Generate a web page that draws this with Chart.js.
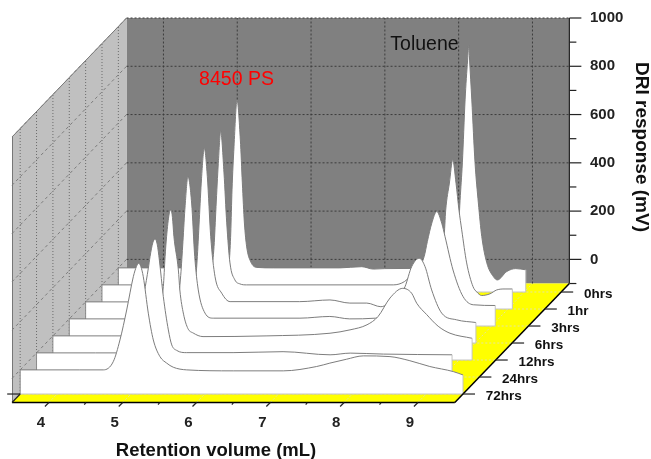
<!DOCTYPE html>
<html>
<head>
<meta charset="utf-8">
<style>html,body{margin:0;padding:0;background:#fff}canvas{display:block}</style>
<script src="https://cdn.jsdelivr.net/npm/chart.js@4"></script>
</head>
<body>
<canvas id="c" width="651" height="459"></canvas>
<script>
const timeLabels = ["72hrs","24hrs","12hrs","6hrs","3hrs","1hr","0hrs"];
const depths = [0.5,1.5,2.5,3.5,4.5,5.5,6.5];
const xTicks = [4,5,6,7,8,9];
const yTicks = [0,100,200,300,400,500,600,700,800,900,1000];
const wallGridValues = [0,200,400,600,800,1000];

const x72 = [3.5,4.3,4.626,4.761,4.852,4.943,5.033,5.075,5.106,5.135,5.168,5.236,5.304,5.394,5.485,5.574,5.756,6.387,7.065,7.517,7.696,7.92,8.149,8.51,8.78,9.05,9.368,9.5];
const y72 = [0,0,0,34,124,248,386,428,442,428,386,235,124,55,28,11,0,-4,-4,14,28,44,58,55,38,14,-7,-21];
const x24 = [3.5,4.3,4.68,4.8,4.88,4.96,5.015,5.038,5.075,5.106,5.135,5.164,5.218,5.286,5.332,5.4,5.535,6.163,6.84,7.477,7.75,8.2,9.13];
const y24 = [0,0,0,30,110,250,351,399,456,472,450,385,233,95,33,10,1,1,5,-8,-1,-5,-8];
const x12 = [3.5,4.3,4.6,4.75,4.85,4.92,4.996,5.02,5.04,5.075,5.1,5.12,5.14,5.2,5.22,5.27,5.33,5.4,5.534,6.4,7.255,7.526,7.756,7.905,8.068,8.24,8.36,8.43,8.565,8.72,8.88,9.18];
const y12 = [0,0,0,3,25,90,204,328,411,505,522,490,411,273,190,90,30,12,-3,0,11,25,46,80,157,197,177,135,88,40,11,-10];
const x6 = [3.5,4.3,4.82,4.92,4.97,5.01,5.04,5.07,5.108,5.158,5.2,5.248,5.339,5.451,6.626,7.03,7.3,7.65,7.8,7.95,8.05,8.14,8.243,8.32,8.41,8.546,8.749,9.01];
const y6 = [0,0,0,12,60,180,320,470,589,480,258,120,24,3,3,10,0,3,40,80,134,217,251,217,120,24,-4,-15];
const x3 = [3.5,4.3,4.84,4.94,4.98,5.01,5.04,5.07,5.108,5.149,5.195,5.253,5.344,5.457,6.4,6.81,7.08,7.31,7.5,7.7,7.95,8.087,8.13,8.19,8.257,8.325,8.37,8.478,8.614,8.753,9.05];
const y3 = [0,0,0,12,60,170,340,510,636,519,270,105,36,1,1,8,-5,-5,-20,20,110,188,250,326,374,326,270,132,22,-12,-15];
const x1 = [3.5,4.3,4.85,4.95,4.986,5.018,5.045,5.076,5.108,5.153,5.19,5.234,5.3,5.37,5.46,6.4,6.86,7.447,7.6,7.75,7.95,8.134,8.157,8.207,8.252,8.297,8.337,8.374,8.441,8.527,8.577,8.645,8.757,8.848,8.961,9.06];
const y1 = [0,0,0,15,62,159,324,504,635,464,257,91,21,4,0,0,0,0,14,60,110,200,310,422,518,421,310,228,91,-7,-29,-44,-37,-21,-17,-17];
const x0 = [3.5,4.3,4.938,4.978,5.004,5.023,5.04,5.067,5.108,5.153,5.18,5.208,5.239,5.294,5.375,5.6,6.5,6.798,6.955,7.11,7.9,8.05,8.1,8.13,8.161,8.198,8.232,8.248,8.259,8.289,8.333,8.378,8.424,8.492,8.581,8.635,8.763,8.885,9.02];
const y0 = [0,0,0,5,33,145,323,502,696,530,352,186,87,25,2,0,0,5,-5,-3,0,30,110,280,435,696,861,923,861,696,435,269,130,21,-36,-50,-15,-3,-8];

const seriesX = [x72,x24,x12,x6,x3,x1,x0];
const seriesY = [y72,y24,y12,y6,y3,y1,y0];

// oblique projection: one depth step shifts a trace along both axes
const xMin = 3.5, xEnd = 9.5, xScaleMax = 11.047;
const yFloor = -100, yScaleMin = -595, yMax = 1000;
const depthDX = 0.2217, depthDY = 70.43, depthBack = 7;
const offX = d => d * depthDX;
const offY = d => (d - depthBack) * depthDY;

const datasets = timeLabels.map((lab, i) => ({
  label: lab,
  data: seriesX[i].map((x, k) => ({ x: x + offX(depths[i]), y: seriesY[i][k] + offY(depths[i]) })),
  borderColor: '#7d7d7d',
  borderWidth: 1,
  backgroundColor: '#ffffff',
  pointRadius: 0,
  cubicInterpolationMode: 'monotone',
  fill: { value: yFloor + offY(depths[i]) },
  depth: depths[i]
}));

const line = (ctx, a, b, c, d) => { ctx.beginPath(); ctx.moveTo(a, b); ctx.lineTo(c, d); ctx.stroke(); };
const poly = (ctx, pts, fill) => {
  ctx.beginPath(); pts.forEach((p, i) => i ? ctx.lineTo(p[0], p[1]) : ctx.moveTo(p[0], p[1]));
  ctx.closePath(); ctx.fillStyle = fill; ctx.fill();
};

const sceneryPlugin = {
  id: 'scenery',
  beforeDatasetsDraw(chart) {
    const { ctx, scales: { x, y } } = chart;
    const P = (xv, yv, d) => [x.getPixelForValue(xv + offX(d)), y.getPixelForValue(yv + offY(d))];
    ctx.save();
    // back wall, side wall, floor
    poly(ctx, [P(xMin,yFloor,7),P(xEnd,yFloor,7),P(xEnd,yMax,7),P(xMin,yMax,7)], '#808080');
    poly(ctx, [P(xMin,yFloor,0),P(xMin,yFloor,7),P(xMin,yMax,7),P(xMin,yMax,0)], '#c0c0c0');
    poly(ctx, [P(xMin,yFloor,0),P(xEnd,yFloor,0),P(xEnd,yFloor,7),P(xMin,yFloor,7)], '#ffff00');
    ctx.lineWidth = 1;
    ctx.strokeStyle = '#777';
    let a = P(xMin,yMax,0), b = P(xMin,yMax,7), c = P(xMin,yFloor,0);
    line(ctx, a[0], a[1], b[0], b[1]);
    line(ctx, a[0]+.5, a[1], c[0]+.5, c[1]);
    // floor grid
    ctx.setLineDash([2,2]); ctx.strokeStyle = '#e4e4a0';
    xTicks.forEach(v => { a = P(v,yFloor,0); b = P(v,yFloor,7); line(ctx, a[0], a[1], b[0], b[1]); });
    depths.forEach(d => { a = P(xMin,yFloor,d); b = P(xEnd,yFloor,d); line(ctx, a[0], a[1], b[0], b[1]); });
    // wall grids
    ctx.strokeStyle = '#3c3c3c'; ctx.setLineDash([2,2]);
    xTicks.forEach(v => { a = P(v,yFloor,7); b = P(v,yMax,7); line(ctx, a[0], a[1], b[0], b[1]); });
    wallGridValues.forEach(v => { a = P(xMin,v,7); b = P(xEnd,v,7); line(ctx, a[0], a[1], b[0], b[1]); });
    ctx.strokeStyle = '#6a6a6a'; ctx.setLineDash([1,2]);
    depths.forEach(d => { a = P(xMin,yFloor,d); b = P(xMin,yMax,d); line(ctx, a[0], a[1], b[0], b[1]); });
    ctx.setLineDash([3,3]); ctx.strokeStyle = '#7c7c7c';
    wallGridValues.forEach(v => { a = P(xMin,v,0); b = P(xMin,v,7); line(ctx, a[0], a[1], b[0], b[1]); });
    ctx.restore();
  },
  afterDatasetDraw(chart, args) {
    const { ctx, scales: { x, y } } = chart;
    const ds = chart.data.datasets[args.index];
    const first = ds.data[0], last = ds.data[ds.data.length - 1];
    const by = y.getPixelForValue(yFloor + offY(ds.depth));
    const rx = x.getPixelForValue(last.x), lx = x.getPixelForValue(first.x);
    ctx.save();
    ctx.strokeStyle = '#c4c4c4'; ctx.lineWidth = 1;
    line(ctx, rx, y.getPixelForValue(last.y), rx, by);
    line(ctx, lx, by, rx, by);
    ctx.strokeStyle = '#8c8c8c';
    line(ctx, lx, y.getPixelForValue(first.y), lx, by);
    ctx.restore();
  },
  afterDatasetsDraw(chart) {
    const { ctx, scales: { x, y } } = chart;
    const P = (xv, yv, d) => [x.getPixelForValue(xv + offX(d)), y.getPixelForValue(yv + offY(d))];
    ctx.save();
    ctx.strokeStyle = '#000'; ctx.fillStyle = '#111';
    // axis lines
    ctx.lineWidth = 1.5;
    let a = P(xMin,yFloor,0), b = P(xEnd,yFloor,0), c = P(xEnd,yFloor,7), e = P(xEnd,yMax,7);
    line(ctx, a[0], a[1], b[0], b[1]);
    line(ctx, b[0], b[1], c[0], c[1]);
    ctx.lineWidth = 1.2; ctx.strokeStyle = '#222';
    line(ctx, c[0], c[1], e[0], e[1]);
    // front corner
    const corner = P(xMin,yFloor,0.5);
    line(ctx, a[0], a[1], corner[0], corner[1]);
    line(ctx, corner[0] - 13, corner[1], corner[0], corner[1]);
    // right axis ticks
    yTicks.forEach(v => {
      const py = y.getPixelForValue(v);
      line(ctx, e[0], py, e[0] + (v % 200 === 0 ? 12 : 7), py);
    });
    line(ctx, e[0], c[1], e[0] + 7, c[1]);
    // slanted front ticks
    xTicks.forEach(v => {
      const p = P(v,yFloor,0);
      line(ctx, p[0], p[1], p[0] - 4, p[1] + 4);
      const m = P(v + 0.5,yFloor,0);
      if (v + 0.5 < xEnd) line(ctx, m[0], m[1], m[0] - 1.5, m[1] + 2);
    });
    // depth axis ticks and labels
    ctx.font = 'bold 13.5px "Liberation Sans", Arial, sans-serif';
    ctx.textAlign = 'left'; ctx.textBaseline = 'middle';
    timeLabels.forEach((lab, i) => {
      const p = P(xEnd,yFloor,depths[i]);
      line(ctx, p[0], p[1], p[0] + 12, p[1]);
      ctx.fillText(lab, p[0] + 22.7, p[1] + 2);
    });
    // axis titles
    ctx.font = 'bold 18.5px "Liberation Sans", Arial, sans-serif';
    ctx.textAlign = 'center'; ctx.textBaseline = 'middle';
    ctx.fillText('Retention volume (mL)', 216, 451);
    ctx.save();
    ctx.translate(641, 147); ctx.rotate(Math.PI / 2);
    ctx.font = 'bold 19px "Liberation Sans", Arial, sans-serif';
    ctx.fillText('DRI response (mV)', 0, 0);
    ctx.restore();
    // annotations
    ctx.font = '19.5px "Liberation Sans", Arial, sans-serif';
    ctx.fillStyle = '#ff0000';
    ctx.fillText('8450 PS', 236.5, 79.5);
    ctx.fillStyle = '#111';
    ctx.fillText('Toluene', 424.5, 44.5);
    ctx.restore();
  }
};

const flattenPadding = s => { s.paddingTop = 0; s.paddingBottom = 0; s.paddingLeft = 0; s.paddingRight = 0; };

new Chart(document.getElementById('c'), {
  type: 'scatter',
  data: { datasets },
  options: {
    responsive: false,
    animation: false,
    showLine: true,
    layout: { padding: { left: 12, top: 18, right: 0, bottom: 0 } },
    plugins: { legend: { display: false }, tooltip: { enabled: false } },
    scales: {
      x: {
        type: 'linear', position: 'bottom', min: xMin, max: xScaleMax,
        grid: { display: false }, border: { display: false },
        afterBuildTicks: s => { s.ticks = xTicks.map(v => ({ value: v })); },
        afterFit: s => { s.height = 56; flattenPadding(s); },
        ticks: {
          autoSkip: false, maxRotation: 0, padding: 3, labelOffset: -8, color: '#222',
          font: { family: '"Liberation Sans", Arial, sans-serif', weight: 'bold', size: 15 },
          callback: v => String(v)
        }
      },
      y: {
        type: 'linear', position: 'right', min: yScaleMin, max: yMax,
        grid: { display: false }, border: { display: false },
        afterBuildTicks: s => { s.ticks = yTicks.map(v => ({ value: v })); },
        afterFit: s => { s.width = 82; flattenPadding(s); },
        ticks: {
          autoSkip: false, padding: 13, color: '#222',
          font: { family: '"Liberation Sans", Arial, sans-serif', weight: 'bold', size: 15 },
          callback: v => (v % 200 === 0 ? String(v) : '')
        }
      }
    }
  },
  plugins: [sceneryPlugin]
});
</script>
</body>
</html>
